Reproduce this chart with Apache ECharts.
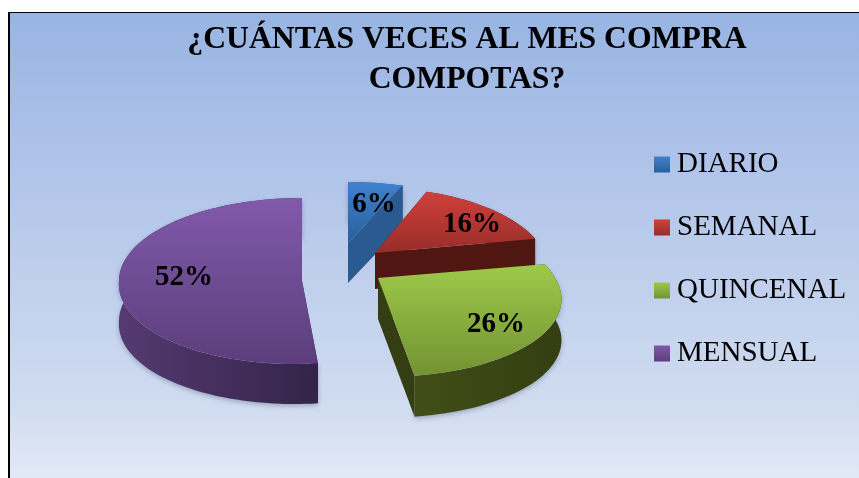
<!DOCTYPE html>
<html>
<head>
<meta charset="utf-8">
<style>
  html, body { margin: 0; padding: 0; background: #fff; }
  #chart { width: 859px; height: 478px; }
</style>
<script src="https://cdn.jsdelivr.net/npm/echarts@6/dist/echarts.min.js"></script>
</head>
<body>
<div id="chart"></div>
<script>
const titleText = "¿CUÁNTAS VECES AL MES COMPRA\nCOMPOTAS?";
const categories = ["DIARIO", "SEMANAL", "QUINCENAL", "MENSUAL"];
const shares = [6, 16, 26, 52];

// how each slice is exploded and foreshortened
const sliceLayout = [
  { cx: 348, cy: 243, rx: 180, ry: 75, k: 0.23, lean: 0, depth: 40, label: [26, -38] },
  { cx: 375, cy: 253, rx: 170, ry: 80, k: 0.23, lean: 0, depth: 36, label: [97, -28] },
  { cx: 378, cy: 278, rx: 177, ry: 76, k: 0.23, lean: 0.08, depth: 41, label: [118, 47] },
  { cx: 302, cy: 281, rx: 183, ry: 83, k: 0, lean: -0.085, depth: 40, label: [-118, -3] }
];
const sliceColors = [
  { top: "#3f82cd", topEnd: "#295f9b", wall: "#2b5f99", wallEnd: "#2b5a90" },
  { top: "#cf403b", topEnd: "#982d29", wall: "#551812", wallEnd: "#501611" },
  { top: "#9dca49", topEnd: "#739233", wall: "#414e17", wallEnd: "#343e12" },
  { top: "#8159aa", topEnd: "#5b3e7b", wall: "#553a70", wallEnd: "#33244a" }
];

const vGrad = (a, b) => new echarts.graphic.LinearGradient(0, 0, 0, 1, [
  { offset: 0, color: a }, { offset: 1, color: b }
]);
const hGrad = (a, b) => new echarts.graphic.LinearGradient(0, 0, 1, 0, [
  { offset: 0, color: a }, { offset: 1, color: b }
]);

const total = shares.reduce((a, b) => a + b, 0);

const project = (l, deg, drop) => {
  const t = deg * Math.PI / 180;
  const u = Math.sin(t), v = Math.cos(t);
  const s = 1 / (1 + l.k * v);
  const dy = -l.ry * v * s;
  return [l.cx + l.rx * u * s + l.lean * Math.max(0, dy), l.cy + dy + drop];
};

const arc = (l, from, to, drop) => {
  const pts = [];
  const steps = Math.max(8, Math.ceil((to - from) / 2));
  for (let i = 0; i <= steps; i++) {
    pts.push(project(l, from + (to - from) * i / steps, drop));
  }
  return pts;
};

const renderSlice = (index) => (params, api) => {
  const l = sliceLayout[index];
  const c = sliceColors[index];
  let before = 0;
  for (let i = 0; i < index; i++) before += shares[i];
  const from = before / total * 360;
  const to = from + api.value(0) / total * 360;

  const topArc = arc(l, from, to, 0);
  const lowArc = arc(l, from, to, l.depth);
  const apex = [l.cx, l.cy];
  const apexLow = [l.cx, l.cy + l.depth];
  const first = topArc[0], last = topArc[topArc.length - 1];
  const firstLow = lowArc[0], lastLow = lowArc[lowArc.length - 1];

  return {
    type: "group",
    children: [
      {
        type: "polygon",
        shape: { points: topArc.concat(lowArc.slice().reverse()) },
        style: {
          fill: hGrad(c.wall, c.wallEnd),
          shadowBlur: 5,
          shadowOffsetY: 2,
          shadowColor: "rgba(30,40,70,0.3)"
        }
      },
      {
        type: "polygon",
        shape: { points: [apex, first, firstLow, apexLow] },
        style: { fill: c.wallEnd }
      },
      {
        type: "polygon",
        shape: { points: [apex, last, lastLow, apexLow] },
        style: { fill: c.wallEnd }
      },
      {
        type: "polygon",
        shape: { points: [apex].concat(topArc) },
        style: { fill: vGrad(c.top, c.topEnd) }
      },
      {
        type: "text",
        style: {
          text: api.value(0) + "%",
          x: l.cx + l.label[0],
          y: l.cy + l.label[1],
          align: "center",
          verticalAlign: "middle",
          font: "bold 29px 'Liberation Serif'",
          fill: "#000"
        }
      }
    ]
  };
};

const option = {
  animation: false,
  title: {
    text: titleText,
    left: 462,
    top: 15,
    textAlign: "center",
    textStyle: {
      fontFamily: "Liberation Serif",
      fontWeight: "bold",
      fontSize: 31.7,
      lineHeight: 40,
      color: "#000"
    }
  },
  legend: {
    orient: "vertical",
    left: 649,
    top: 145,
    itemWidth: 16,
    itemHeight: 16,
    itemGap: 34,
    icon: "rect",
    textStyle: {
      fontFamily: "Liberation Serif",
      fontSize: 29,
      color: "#000",
      padding: [0, 0, 0, 2]
    },
    data: categories.map((name, i) => ({
      name: name,
      itemStyle: { color: vGrad(sliceColors[i].top, sliceColors[i].topEnd) }
    }))
  },
  graphic: [
    {
      type: "rect",
      z: -10,
      shape: { x: 9, y: 12, width: 850, height: 466 },
      style: {
        fill: new echarts.graphic.LinearGradient(0, 0, 0, 1, [
          { offset: 0, color: "#97b4e2" },
          { offset: 0.25, color: "#abc0e8" },
          { offset: 0.85, color: "#d0dcf0" },
          { offset: 1, color: "#e2e9f6" }
        ])
      }
    },
    { type: "rect", z: -9, shape: { x: 8, y: 12, width: 2, height: 466 }, style: { fill: "#000" } },
    { type: "rect", z: -9, shape: { x: 8, y: 12, width: 851, height: 1 }, style: { fill: "#000" } }
  ],
  series: categories.map((name, i) => ({
    type: "custom",
    name: name,
    coordinateSystem: "none",
    z: i === 3 ? 2 : 3 + i,
    itemStyle: { color: sliceColors[i].top },
    renderItem: renderSlice(i),
    data: [[shares[i]]]
  }))
};

const chart = echarts.init(document.getElementById("chart"));
chart.setOption(option);

window.addEventListener("resize", function () {
  chart.resize();
});
</script>
</body>
</html>
